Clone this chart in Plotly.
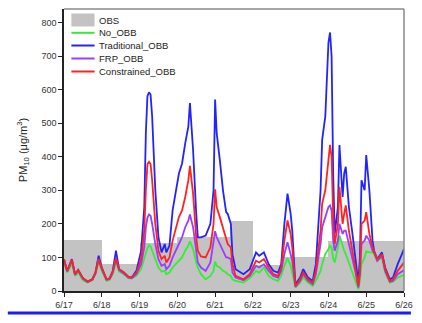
import plotly.graph_objects as go

# ---- data ----
day_labels = ["6/17", "6/18", "6/19", "6/20", "6/21", "6/22", "6/23", "6/24", "6/25", "6/26"]

obs_start = [0, 1, 2, 3, 4.4, 5, 5.75, 7]
obs_end = [1, 2, 3, 4.4, 5, 5.75, 7, 9]
obs_val = [153, 80, 143, 160, 208, 78, 100, 148]

hours = [0, 2, 5, 7, 9, 12, 15, 18, 20, 22, 24, 27, 29, 31, 33, 35, 38, 41, 43, 46,
         49, 51, 52, 53, 54, 55, 56, 58, 60, 62, 64, 65, 67, 69, 73, 75, 77, 79, 80, 82, 84,
         85, 87, 90, 93, 95, 96, 97, 99, 101, 103, 104, 106, 107, 109, 114, 118, 122, 124, 127, 130,
         133, 136, 138, 140, 142, 144, 145, 147, 150, 152, 155, 158, 160, 163, 164, 166, 168, 169, 170, 171,
         172, 174, 175, 177, 178, 179, 181, 183, 185, 187, 188, 189, 191, 192, 194, 196, 197, 199, 202, 204,
         207, 209, 212, 216]

no_obb = [85, 55, 80, 45, 55, 32, 25, 32, 50, 85, 60, 30, 33, 50, 85, 58, 50, 38, 38, 45,
          65, 95, 115, 128, 136, 133, 120, 95, 70, 58, 60, 50, 55, 70, 90, 100, 120, 135, 148, 125, 85,
          70, 50, 35, 45, 60, 88, 75, 70, 60, 55, 50, 45, 35, 30, 25, 38, 60, 55, 70, 45,
          35, 30, 45, 75, 98, 75, 55, 10, 25, 40, 25, 15, 30, 60, 80, 110, 125, 135, 130, 95,
          85, 130, 165, 130, 120, 110, 85, 55, 30, 5, 30, 80, 100, 118, 115, 115, 110, 90, 100, 55,
          25, 28, 40, 48]

traditional_obb = [95, 60, 95, 50, 63, 38, 28, 35, 55, 105, 70, 35, 38, 60, 120, 65, 55, 42, 40, 60,
                   120, 250, 470, 580, 592, 585, 520, 300, 160, 115, 140, 115, 135, 240, 350, 380, 440, 490, 560, 420, 230,
                   160, 160, 165, 200, 300, 570, 470, 390, 300, 235, 230, 200, 110, 65, 50, 65, 115, 105, 115, 80,
                   60, 55, 80, 200, 290, 230, 180, 20, 40, 65, 40, 30, 80, 300, 450, 520, 740, 770, 700, 350,
                   170, 250, 435, 280, 350, 370, 250, 180, 100, 25, 100, 330, 300, 405, 300, 150, 120, 95, 115, 70,
                   35, 40, 80, 125]

frp_obb = [90, 58, 90, 48, 60, 36, 27, 33, 52, 95, 65, 33, 36, 55, 95, 62, 52, 40, 38, 50,
           80, 130, 190, 218, 228, 224, 200, 140, 95, 75, 80, 65, 75, 100, 140, 160, 190, 210, 228, 190, 120,
           85, 70, 60, 85, 150, 178, 160, 140, 120, 100, 100, 95, 55, 40, 32, 45, 75, 70, 80, 60,
           45, 40, 60, 110, 145, 110, 90, 12, 30, 50, 30, 20, 50, 140, 190, 220, 250, 255, 240, 150,
           120, 150, 200, 170, 180, 180, 140, 100, 60, 10, 50, 140, 150, 165, 150, 120, 115, 90, 105, 60,
           28, 30, 50, 62]

constrained_obb = [95, 60, 93, 50, 63, 38, 28, 35, 55, 95, 68, 35, 38, 58, 98, 65, 55, 42, 40, 55,
                   95, 180, 300, 378, 385, 378, 330, 200, 120, 95, 105, 85, 100, 150, 220, 240, 280, 330, 373, 290, 160,
                   120, 103, 100, 130, 200, 303, 250, 220, 190, 160, 140, 130, 80, 45, 35, 50, 90, 85, 95, 70,
                   50, 45, 70, 150, 210, 170, 130, 15, 35, 55, 35, 25, 60, 180, 260, 300, 380, 435, 400, 220,
                   140, 200, 310, 200, 230, 255, 180, 130, 70, 15, 60, 200, 210, 235, 170, 130, 115, 95, 110, 65,
                   30, 35, 60, 85]

# ---- figure ----
W, H = 422, 323
ML, MR, MT, MB = 64, 13, 9, 32
PW, PH = W - ML - MR, H - MT - MB


def px(x):
    return (x - ML) / PW


def py(y):
    return (H - MB - y) / PH


days = [h / 24 for h in hours]
obs_mid = [(a + b) / 2 for a, b in zip(obs_start, obs_end)]
obs_w = [b - a for a, b in zip(obs_start, obs_end)]

OBS_COLOR = "#c3c3c3"
fig = go.Figure()
fig.add_trace(go.Bar(x=obs_mid, y=obs_val, width=obs_w, name="OBS",
                     marker=dict(color=OBS_COLOR, line=dict(width=0))))

series = [
    ("No_OBB", no_obb, "#33ee33"),
    ("Traditional_OBB", traditional_obb, "#2323ff"),
    ("FRP_OBB", frp_obb, "#9b3cff"),
    ("Constrained_OBB", constrained_obb, "#ff2222"),
]
for name, vals, col in series:
    fig.add_trace(go.Scatter(x=days, y=vals, mode="lines", name=name,
                             line=dict(color=col, width=1.8)))

font_family = "Arial, Liberation Sans, sans-serif"

# compact legend (drawn in paper coordinates)
shapes = []
annotations = []
leg_y = [20, 32.8, 45.5, 58.5, 71.5]
leg_names = ["OBS"] + [s[0] for s in series]
shapes.append(dict(type="rect", xref="paper", yref="paper", x0=px(71.5), x1=px(95),
                   y0=py(leg_y[0] + 6.5), y1=py(leg_y[0] - 6.5),
                   fillcolor=OBS_COLOR, line=dict(width=0)))
for (name, vals, col), yy in zip(series, leg_y[1:]):
    shapes.append(dict(type="line", xref="paper", yref="paper", x0=px(71.5), x1=px(95),
                       y0=py(yy), y1=py(yy), line=dict(color=col, width=2)))
for name, yy in zip(leg_names, leg_y):
    annotations.append(dict(text=name, xref="paper", yref="paper", x=px(97), y=py(yy),
                            xanchor="left", yanchor="middle", showarrow=False,
                            font=dict(size=9.5, color="#222222", family=font_family)))

shapes += [
    dict(type="line", xref="paper", yref="paper", x0=0, x1=1, y0=1, y1=1,
         line=dict(color="#8a8a8a", width=1.5)),
    dict(type="line", xref="paper", yref="paper", x0=1, x1=1, y0=0, y1=1,
         line=dict(color="#8a8a8a", width=1.5)),
    dict(type="line", xref="paper", yref="paper", x0=px(7), x1=px(416), y0=py(313), y1=py(313),
         line=dict(color="#1a1aff", width=3)),
]

fig.update_layout(
    width=W, height=H,
    margin=dict(l=ML, r=MR, t=MT, b=MB),
    paper_bgcolor="white", plot_bgcolor="white",
    font=dict(family=font_family, size=9, color="#333333"),
    showlegend=False,
    bargap=0,
    xaxis=dict(range=[0, 9], tickmode="array", tickvals=list(range(10)), ticktext=day_labels,
               showgrid=False, zeroline=False, showline=True, linecolor="#222222", linewidth=1.5,
               ticks="outside", ticklen=4, tickwidth=1.2, tickcolor="#222222"),
    yaxis=dict(range=[0, 840], tickmode="linear", tick0=0, dtick=100,
               showgrid=False, zeroline=False, showline=True, linecolor="#222222", linewidth=1.5,
               ticks="outside", ticklen=4, tickwidth=1.2, tickcolor="#222222",
               title=dict(text="PM<sub>10</sub> (μg/m<sup>3</sup>)", font=dict(size=11, color="#222222"),
                          standoff=12)),
    shapes=shapes,
    annotations=annotations,
)

fig.write_html("out.html")
